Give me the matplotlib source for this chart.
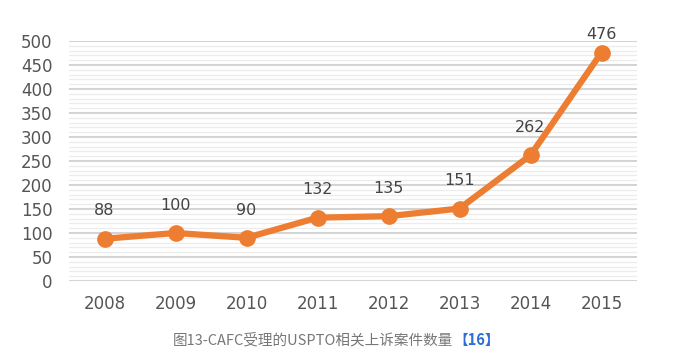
import matplotlib
matplotlib.use("Agg")
import matplotlib.pyplot as plt
from matplotlib.ticker import MultipleLocator

years = ["2008", "2009", "2010", "2011", "2012", "2013", "2014", "2015"]
cases = [88, 100, 90, 132, 135, 151, 262, 476]
y_ticks = [0, 50, 100, 150, 200, 250, 300, 350, 400, 450, 500]
caption_main = "图13-CAFC受理的USPTO相关上诉案件数量"
caption_ref = "【16】"

plt.rcParams['font.family'] = ['DejaVu Sans']
fig = plt.figure(figsize=(6.93, 3.56), dpi=100)
ax = fig.add_axes([0.0996, 0.2107, 0.8196, 0.6741])

x = list(range(len(years)))
ax.plot(x, cases, color="#ED7D31", lw=4.5, marker="o", ms=11,
        markerfacecolor="#ED7D31", markeredgecolor="#ED7D31", zorder=3,
        solid_capstyle="round")
for xi, v in zip(x, cases):
    off = 13 if v > 450 else 20
    ax.annotate(str(v), (xi, v), xytext=(0, off), textcoords="offset points",
                ha="center", va="center", fontsize=11.5, color="#444444",
                annotation_clip=False)

ax.set_xlim(-0.5, len(years) - 0.5)
ax.set_ylim(0, 500)
ax.set_yticks(y_ticks)
ax.set_yticklabels([str(t) for t in y_ticks])
ax.yaxis.set_minor_locator(MultipleLocator(10))
ax.set_xticks(x)
ax.set_xticklabels(years)
ax.grid(axis="y", which="major", color="#d0d0d0", lw=1.3)
ax.grid(axis="y", which="minor", color="#ececec", lw=0.9)
ax.set_axisbelow(True)
for s in ax.spines.values():
    s.set_visible(False)
ax.tick_params(axis="both", which="both", length=0, labelsize=12, labelcolor="#555555")
ax.tick_params(axis="y", pad=12)
ax.tick_params(axis="x", pad=10)

t1 = fig.text(0.249, 0.045, caption_main, fontsize=10.5, color="#777777",
              family=["Noto Sans CJK SC", "DejaVu Sans"], ha="left", va="center")
ax.annotate(caption_ref, xy=(1, 0.5), xycoords=t1, ha="left", va="center",
            fontsize=10.5, color="#2a6fd6", fontweight="bold",
            family=["Noto Sans CJK SC", "DejaVu Sans"], annotation_clip=False)

fig.savefig("out.png", dpi=100)
